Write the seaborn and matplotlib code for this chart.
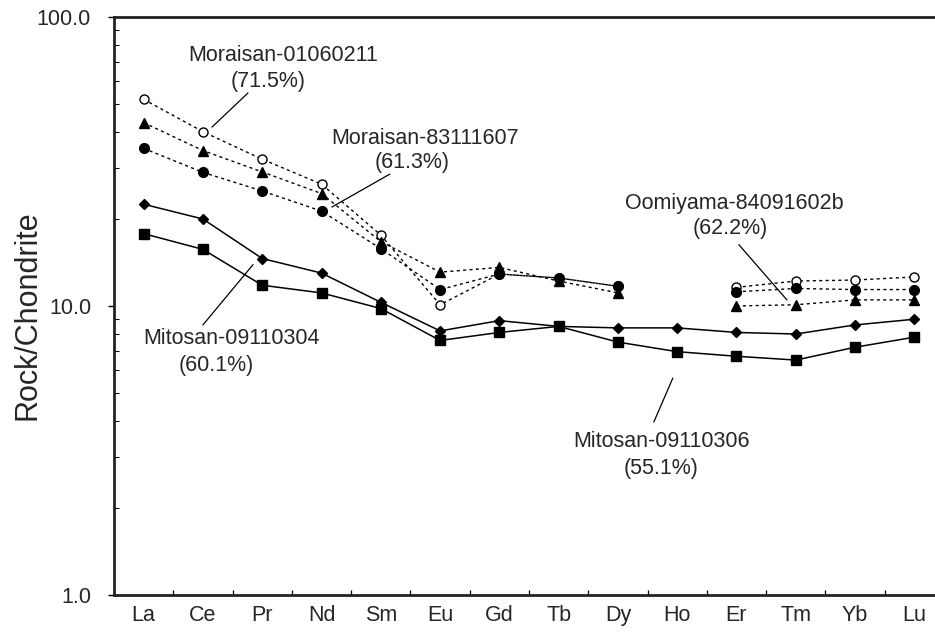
import numpy as np
import seaborn as sns
import matplotlib.pyplot as plt
from matplotlib.ticker import FixedLocator, NullFormatter

nan = np.nan

elements = ['La', 'Ce', 'Pr', 'Nd', 'Sm', 'Eu', 'Gd', 'Tb', 'Dy',
            'Ho', 'Er', 'Tm', 'Yb', 'Lu']

# rock / chondrite values
moraisan_01060211 = [51.9, 40.1, 32.2, 26.4, 17.6, 10.1, 12.9, 12.5, 11.7,
                     nan, 11.6, 12.2, 12.3, 12.6]
oomiyama_84091602b = [43.1, 34.5, 29.1, 24.5, 16.7, 13.1, 13.6, 12.2, 11.1,
                      nan, 10.0, 10.1, 10.5, 10.5]
moraisan_83111607 = [35.1, 29.0, 25.0, 21.3, 15.8, 11.4, 12.9, 12.5, 11.7,
                     nan, 11.2, 11.5, 11.4, 11.4]
mitosan_09110304 = [22.5, 20.0, 14.6, 13.0, 10.3, 8.2, 8.9, 8.5, 8.4,
                    8.4, 8.1, 8.0, 8.6, 9.0]
mitosan_09110306 = [17.8, 15.7, 11.8, 11.1, 9.8, 7.6, 8.1, 8.5, 7.5,
                    6.95, 6.7, 6.5, 7.2, 7.8]

ytick_vals = [1, 10, 100]
ytick_labels = ['1.0', '10.0', '100.0']
yminor_vals = [m * d for d in (1, 10) for m in range(2, 10)]

sns.set_style('ticks')
plt.rcParams['font.family'] = ['Liberation Sans', 'DejaVu Sans']

fig = plt.figure(figsize=(9.35, 6.32), dpi=100)
ax = fig.add_axes([114 / 935, 37 / 632, 830 / 935, 578 / 632])

xpos = np.arange(len(elements))
dash = (0, (2.2, 2.4))


def draw(vals, marker, mfc, ms, ls, lw):
    # split into runs so a missing element leaves a gap
    v = np.array(vals, dtype=float)
    ok = ~np.isnan(v)
    runs = np.split(np.arange(len(v)), np.where(np.diff(ok))[0] + 1)
    for r in runs:
        if not ok[r[0]]:
            continue
        sns.lineplot(x=xpos[r], y=v[r], ax=ax, color='black', legend=False,
                     marker=marker, markersize=ms, markerfacecolor=mfc,
                     markeredgecolor='black', markeredgewidth=1.0,
                     linestyle=ls, linewidth=lw)


draw(mitosan_09110304, 'D', 'black', 4.8, '-', 1.1)
draw(mitosan_09110306, 's', 'black', 7, '-', 1.1)
draw(moraisan_01060211, 'o', 'white', 6.5, dash, 1.0)
draw(oomiyama_84091602b, '^', 'black', 7, dash, 1.0)
draw(moraisan_83111607, 'o', 'black', 7, dash, 1.0)

# sample labels with leader lines
fs = 15.5
labels = [
    ('Moraisan-01060211', 2.35, 73.3, '(71.5%)', 2.10, 60.0,
     (1.76, 54.6), (1.153, 41.6)),
    ('Moraisan-83111607', 4.745, 38.1, '(61.3%)', 4.525, 31.3,
     (4.153, 28.6), (3.175, 22.0)),
    ('Oomiyama-84091602b', 9.955, 22.7, '(62.2%)', 9.90, 18.5,
     (10.04, 16.3), (10.85, 10.5)),
    ('Mitosan-09110304', 1.49, 7.69, '(60.1%)', 1.22, 6.20,
     (1.0, 8.6), (1.845, 13.9)),
    ('Mitosan-09110306', 8.727, 3.41, '(55.1%)', 8.727, 2.75,
     (8.606, 3.97), (8.926, 5.63)),
]
for name, nx, ny, pct, px, py, p0, p1 in labels:
    ax.text(nx, ny, name, ha='center', va='center', fontsize=fs)
    ax.text(px, py, pct, ha='center', va='center', fontsize=fs)
    ax.plot([p0[0], p1[0]], [p0[1], p1[1]], color='black', lw=0.9)

ax.set_yscale('log')
ax.set_ylim(1, 100)
ax.set_xlim(-0.5, len(elements) - 0.5)

ax.yaxis.set_major_locator(FixedLocator(ytick_vals))
ax.yaxis.set_minor_locator(FixedLocator(yminor_vals))
ax.set_yticklabels(ytick_labels)
ax.yaxis.set_minor_formatter(NullFormatter())

ax.set_xticks(xpos)
ax.set_xticklabels(elements)
ax.set_xticks(xpos[:-1] + 0.5, minor=True)

for s in ax.spines.values():
    s.set_linewidth(2.0)
    s.set_color('#222222')

ax.set_xlabel('')
ax.set_ylabel('Rock/Chondrite', fontsize=22)
ax.yaxis.set_label_coords(-0.086, 0.484)

ax.tick_params(axis='y', which='major', direction='out', length=4.5,
               width=1, pad=12, labelsize=15.5, color='black')
ax.tick_params(axis='y', which='minor', direction='in', length=3.8,
               width=0.8, color='black', left=True)
ax.tick_params(axis='x', which='major', length=0, pad=7, labelsize=15.5)
ax.tick_params(axis='x', which='minor', direction='in', length=3.8,
               width=0.9, color='black', bottom=True)

fig.savefig('out.png', dpi=100)
